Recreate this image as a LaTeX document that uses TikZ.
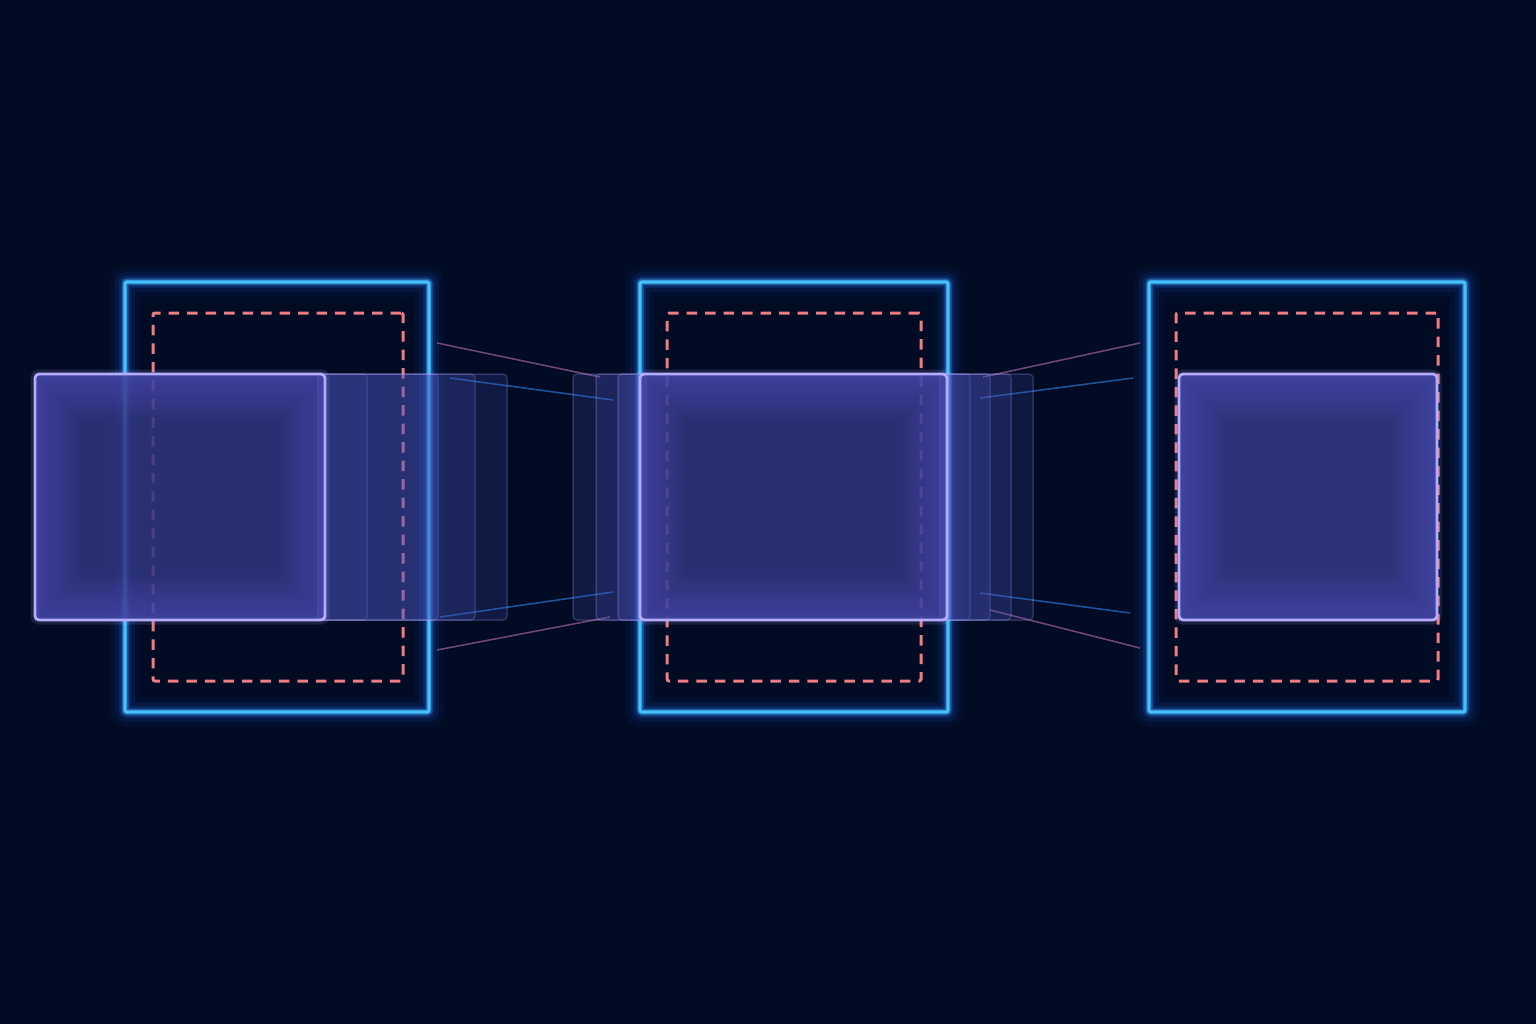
\documentclass[tikz,border=0pt]{standalone}
\usepackage{tikz}
\usetikzlibrary{positioning,shapes}

\definecolor{bgnavy}{RGB}{1,11,36}
\definecolor{framecyan}{RGB}{70,192,255}
\definecolor{glowblue}{RGB}{30,110,255}
\definecolor{cutred}{RGB}{238,124,130}
\definecolor{boxlav}{RGB}{182,172,255}
\definecolor{boxin}{RGB}{48,54,128}
\definecolor{boxout}{RGB}{104,104,220}
\definecolor{ghostfill}{RGB}{78,86,192}
\definecolor{raypink}{RGB}{180,112,180}
\definecolor{rayblue}{RGB}{44,132,240}

\begin{document}
\begin{tikzpicture}[x=1pt,y=-1pt,
	frame/.style={draw=framecyan, line width=3.2pt, rounded corners=2pt, inner sep=0pt,
		preaction={draw=glowblue, line width=30pt, draw opacity=.05},
		preaction={draw=glowblue, line width=20pt, draw opacity=.09},
		preaction={draw=glowblue, line width=12pt, draw opacity=.18},
		preaction={draw=framecyan, line width=7pt, draw opacity=.35}},
	cutline/.style={draw=cutred, line width=3pt, rounded corners=2pt, inner sep=0pt,
		dash pattern=on 10.5pt off 8pt},
	crop/.style={draw=boxlav, line width=2.8pt, rounded corners=4pt, inner sep=0pt,
		fill=boxin, fill opacity=.86,
		path picture={
			\foreach \w in {90,84,...,6}
				\draw[boxout, line width=\w pt, opacity=.035] (path picture bounding box.south west) rectangle (path picture bounding box.north east);}},
	cropglow/.style={preaction={draw=boxlav, line width=9pt, draw opacity=.14}},
	ghost/.style={draw=boxlav, draw opacity=.22, line width=1.5pt, fill=ghostfill, rounded corners=4pt},
	ray/.style={line width=1.6pt, draw opacity=.6, preaction={draw, line width=5pt, draw opacity=.12}}]
	\fill[bgnavy] (0,0) rectangle (1536,1024);
	\useasboundingbox (0,0) rectangle (1536,1024);

	% frames
	\node[frame, minimum width=304pt, minimum height=430pt] (f1) at (277,497) {};
	\node[frame, minimum width=308pt, minimum height=430pt] (f2) at (794,497) {};
	\node[frame, minimum width=316pt, minimum height=430pt] (f3) at (1307,497) {};
	\node[cutline, minimum width=250pt, minimum height=368pt] (d1) at (278,497) {};
	\node[cutline, minimum width=254pt, minimum height=368pt] (d2) at (794,497) {};
	\node[cutline, minimum width=262pt, minimum height=368pt] (d3) at (1307,497) {};

	% rays between frames
	\coordinate (p1a) at (437,343); \coordinate (p1b) at (600,377);
	\coordinate (q1a) at (450,378); \coordinate (q1b) at (613,400);
	\coordinate (q1c) at (440,617); \coordinate (q1d) at (613,592);
	\coordinate (p1c) at (437,650); \coordinate (p1d) at (610,617);
	\coordinate (p2a) at (983,377); \coordinate (p2b) at (1140,343);
	\coordinate (q2a) at (980,398); \coordinate (q2b) at (1133,378);
	\coordinate (q2c) at (980,593); \coordinate (q2d) at (1130,613);
	\coordinate (p2c) at (990,610); \coordinate (p2d) at (1140,648);
	\draw[ray, raypink] (p1a)--(p1b);
	\draw[ray, rayblue] (q1a)--(q1b);
	\draw[ray, rayblue] (q1c)--(q1d);
	\draw[ray, raypink] (p1c)--(p1d);
	\draw[ray, raypink] (p2a)--(p2b);
	\draw[ray, rayblue] (q2a)--(q2b);
	\draw[ray, rayblue] (q2c)--(q2d);
	\draw[ray, raypink] (p2c)--(p2d);

	% motion trails
	\foreach \r/\o in {367/.1,438/.24,475/.2,507/.2}
		\draw[ghost, fill opacity=\o] (318,374) rectangle (\r,620);
	\foreach \l/\o in {573/.2,596/.2,618/.26}
		\draw[ghost, fill opacity=\o] (\l,374) rectangle (646,620);
	\foreach \r/\o in {970/.12,990/.22,1011/.2,1033/.18}
		\draw[ghost, fill opacity=\o] (940,374) rectangle (\r,620);

	% crops
	\node[crop, cropglow, minimum width=290pt, minimum height=246pt] (b1) at (180,497) {};
	\node[crop, cropglow, minimum width=307pt, minimum height=246pt] (b2) at (793.5,497) {};
	\node[crop, cropglow, fill opacity=.94, minimum width=258pt, minimum height=246pt] (b3) at (1308,497) {};
\end{tikzpicture}
\end{document}
